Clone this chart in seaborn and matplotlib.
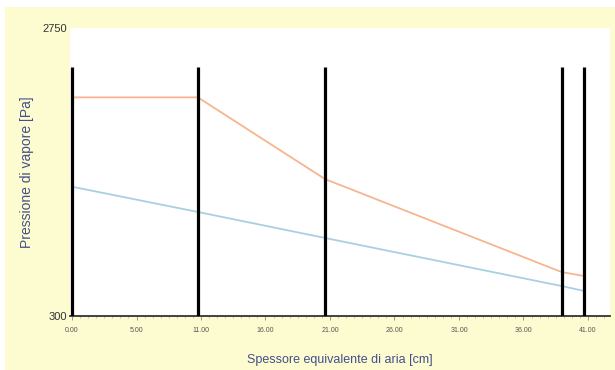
import numpy as np
import pandas as pd
import matplotlib
matplotlib.use("Agg")
import matplotlib.pyplot as plt
import seaborn as sns
from matplotlib.patches import Rectangle

# ---- data ----
layer_x = [0.0, 10.0, 20.1, 38.9, 40.7]            # layer boundaries [cm]
p_sat = [2160, 2160, 1465, 674, 640]               # orange curve [Pa]
p_vap = [1400, 1185, 964, 555, 513]                # blue curve [Pa]
x_ticks = list(np.linspace(0, 41, 9))
x_tick_labels = ["0.00", "5.00", "11.00", "16.00", "21.00", "26.00", "31.00", "36.00", "41.00"]
y_ticks = [300, 2750]
y_tick_labels = ["300", "2750"]
line_top = 2418

sns.set_style("white")
plt.rcParams["font.family"] = ["Liberation Sans", "DejaVu Sans"]

fig = plt.figure(figsize=(6.15, 3.70), dpi=100)
fig.patch.set_facecolor("white")
fig.patches.append(Rectangle((5 / 615, 0), 1 - 5 / 615, 1 - 7 / 370,
                             transform=fig.transFigure, facecolor="#fdfbd0",
                             edgecolor="none", zorder=-10))

ax = fig.add_axes([70 / 615, (370 - 316) / 370, 540 / 615, (316 - 28) / 370])
ax.set_facecolor("white")

df = pd.DataFrame({
    "x": layer_x * 2,
    "p": p_sat + p_vap,
    "serie": ["sat"] * len(layer_x) + ["vap"] * len(layer_x),
})
sns.lineplot(data=df, x="x", y="p", hue="serie", palette={"sat": "#f6b590", "vap": "#a9cfe2"},
             linewidth=1.3, legend=False, ax=ax, sort=False, zorder=3)

ax.vlines(layer_x, 300, line_top, colors="black", linewidth=2.3, zorder=4)

ax.set_xlim(-0.16, 42.75)
ax.set_ylim(300, 2750)
ax.set_xticks(x_ticks)
ax.set_xticklabels(x_tick_labels, fontsize=5, color="#555555")
ax.set_yticks(y_ticks)
ax.set_yticklabels(y_tick_labels, fontsize=8, color="#333333")
ax.tick_params(axis="x", direction="out", length=3, width=0.6, color="#888888", pad=5, bottom=True)
ax.tick_params(axis="y", length=0, pad=2)
ax.xaxis.set_minor_locator(matplotlib.ticker.MultipleLocator(41 / 64))
ax.tick_params(axis="x", which="minor", length=1.5, width=0.4, color="#999999", bottom=True)

for s in ["top", "right", "left"]:
    ax.spines[s].set_visible(False)
ax.spines["bottom"].set_color("#333333")
ax.spines["bottom"].set_linewidth(1.3)

ax.set_xlabel("Spessore equivalente di aria [cm]", fontsize=9, color="#43508a", labelpad=14)
ax.set_ylabel("Pressione di vapore [Pa]", fontsize=10, color="#43508a", labelpad=6)
ax.grid(False)

fig.savefig("out.png", dpi=100, facecolor=fig.get_facecolor())
